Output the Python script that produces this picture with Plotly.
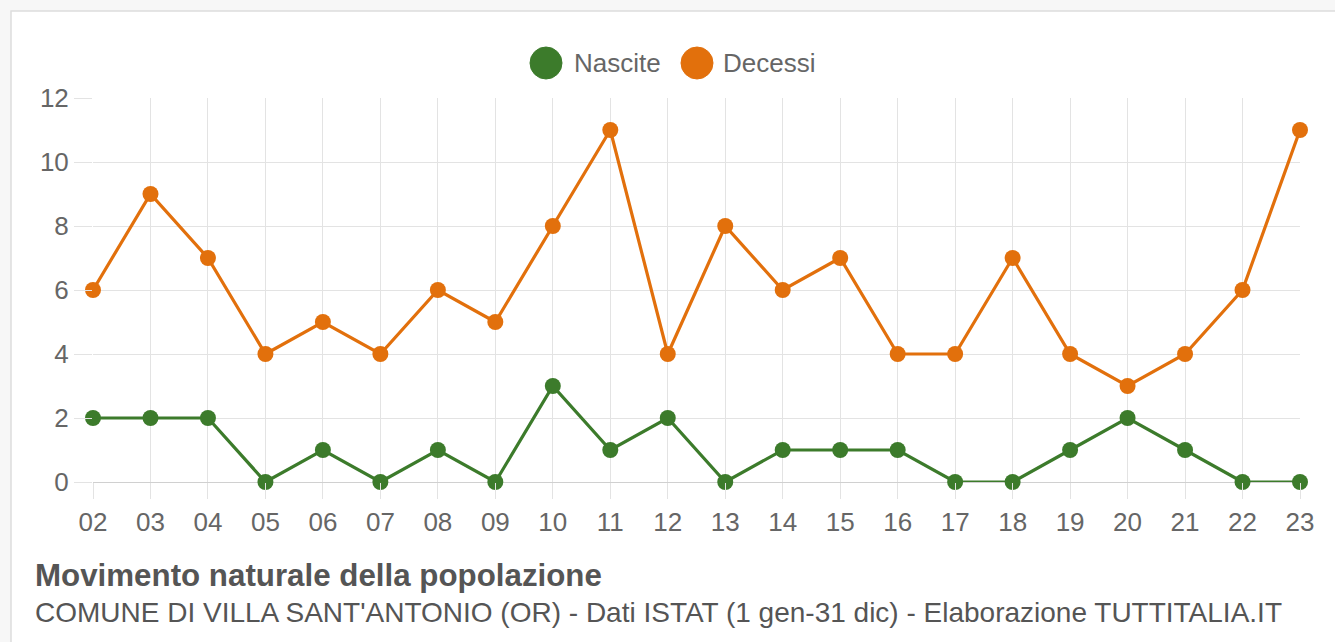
import plotly.graph_objects as go

anni = ["02", "03", "04", "05", "06", "07", "08", "09", "10", "11", "12",
        "13", "14", "15", "16", "17", "18", "19", "20", "21", "22", "23"]
nascite = [2, 2, 2, 0, 1, 0, 1, 0, 3, 1, 2, 0, 1, 1, 1, 0, 0, 1, 2, 1, 0, 0]
decessi = [6, 9, 7, 4, 5, 4, 6, 5, 8, 11, 4, 8, 6, 7, 4, 4, 7, 4, 3, 4, 6, 11]
serie_nomi = ["Nascite", "Decessi"]
colori = ["#3c7b2b", "#e2700c"]
y_ticks = [0, 2, 4, 6, 8, 10, 12]

W, H = 1335, 642
L, R, T, B = 93, 35, 98, 160
pw, ph = W - L - R, H - T - B

def px(x):
    return (x - L) / pw

def py(y):
    return (H - B - y) / ph

fig = go.Figure()
for nome, vals, col in zip(serie_nomi, [nascite, decessi], colori):
    fig.add_trace(go.Scatter(
        x=anni, y=vals, name=nome, mode="lines+markers",
        line=dict(color=col, width=3.2),
        marker=dict(color=col, size=16),
        cliponaxis=False, showlegend=False,
    ))

font_fam = "Liberation Sans, Arial, sans-serif"

shapes = [dict(type="rect", xref="paper", yref="paper",
               x0=px(11), x1=px(1345), y0=py(650), y1=py(11),
               line=dict(color="#dddddd", width=1.5), fillcolor="white",
               layer="below")]
annotations = []
# custom legend
leg = [(546, 572), (697, 721)]
for (cx, tx), nome, col in zip(leg, serie_nomi, colori):
    shapes.append(dict(type="circle", xref="paper", yref="paper",
                       x0=px(cx - 16), x1=px(cx + 16), y0=py(63 + 16), y1=py(63 - 16),
                       fillcolor=col, line=dict(color=col, width=1)))
    annotations.append(dict(text=nome, xref="paper", yref="paper",
                            x=px(tx), y=py(63), xanchor="left", yanchor="middle",
                            showarrow=False, font=dict(size=26, color="#666666", family=font_fam)))

annotations.append(dict(text="<b>Movimento naturale della popolazione</b>",
                        xref="paper", yref="paper", x=px(33), y=py(575),
                        xanchor="left", yanchor="middle", showarrow=False,
                        font=dict(size=31.3, color="#555555", family=font_fam)))
annotations.append(dict(text="COMUNE DI VILLA SANT'ANTONIO (OR) - Dati ISTAT (1 gen-31 dic) - Elaborazione TUTTITALIA.IT",
                        xref="paper", yref="paper", x=px(33), y=py(612),
                        xanchor="left", yanchor="middle", showarrow=False,
                        font=dict(size=28, color="#555555", family=font_fam)))

fig.update_layout(
    width=W, height=H,
    margin=dict(l=L, r=R, t=T, b=B),
    paper_bgcolor="#f7f7f7", plot_bgcolor="white",
    font=dict(family=font_fam, size=26, color="#666666"),
    shapes=shapes, annotations=annotations,
    showlegend=False,
)
fig.update_xaxes(
    type="category", range=[0, len(anni) - 1],
    showgrid=True, gridcolor="#e3e3e3", gridwidth=1,
    ticks="outside", ticklen=16, tickcolor="#e3e3e3", tickwidth=1,
    showline=False, zeroline=False, ticklabelstandoff=1,
    tickfont=dict(size=26, color="#666666"),
)
fig.update_yaxes(
    range=[0, 12], tickvals=y_ticks,
    showgrid=True, gridcolor="#e3e3e3", gridwidth=1,
    ticks="outside", ticklen=18, tickcolor="#e3e3e3", tickwidth=1,
    showline=False, zeroline=True, zerolinecolor="#d0d0d0", zerolinewidth=1,
    ticklabelstandoff=0,
    tickfont=dict(size=26, color="#666666"),
)

fig.write_html("out.html")
